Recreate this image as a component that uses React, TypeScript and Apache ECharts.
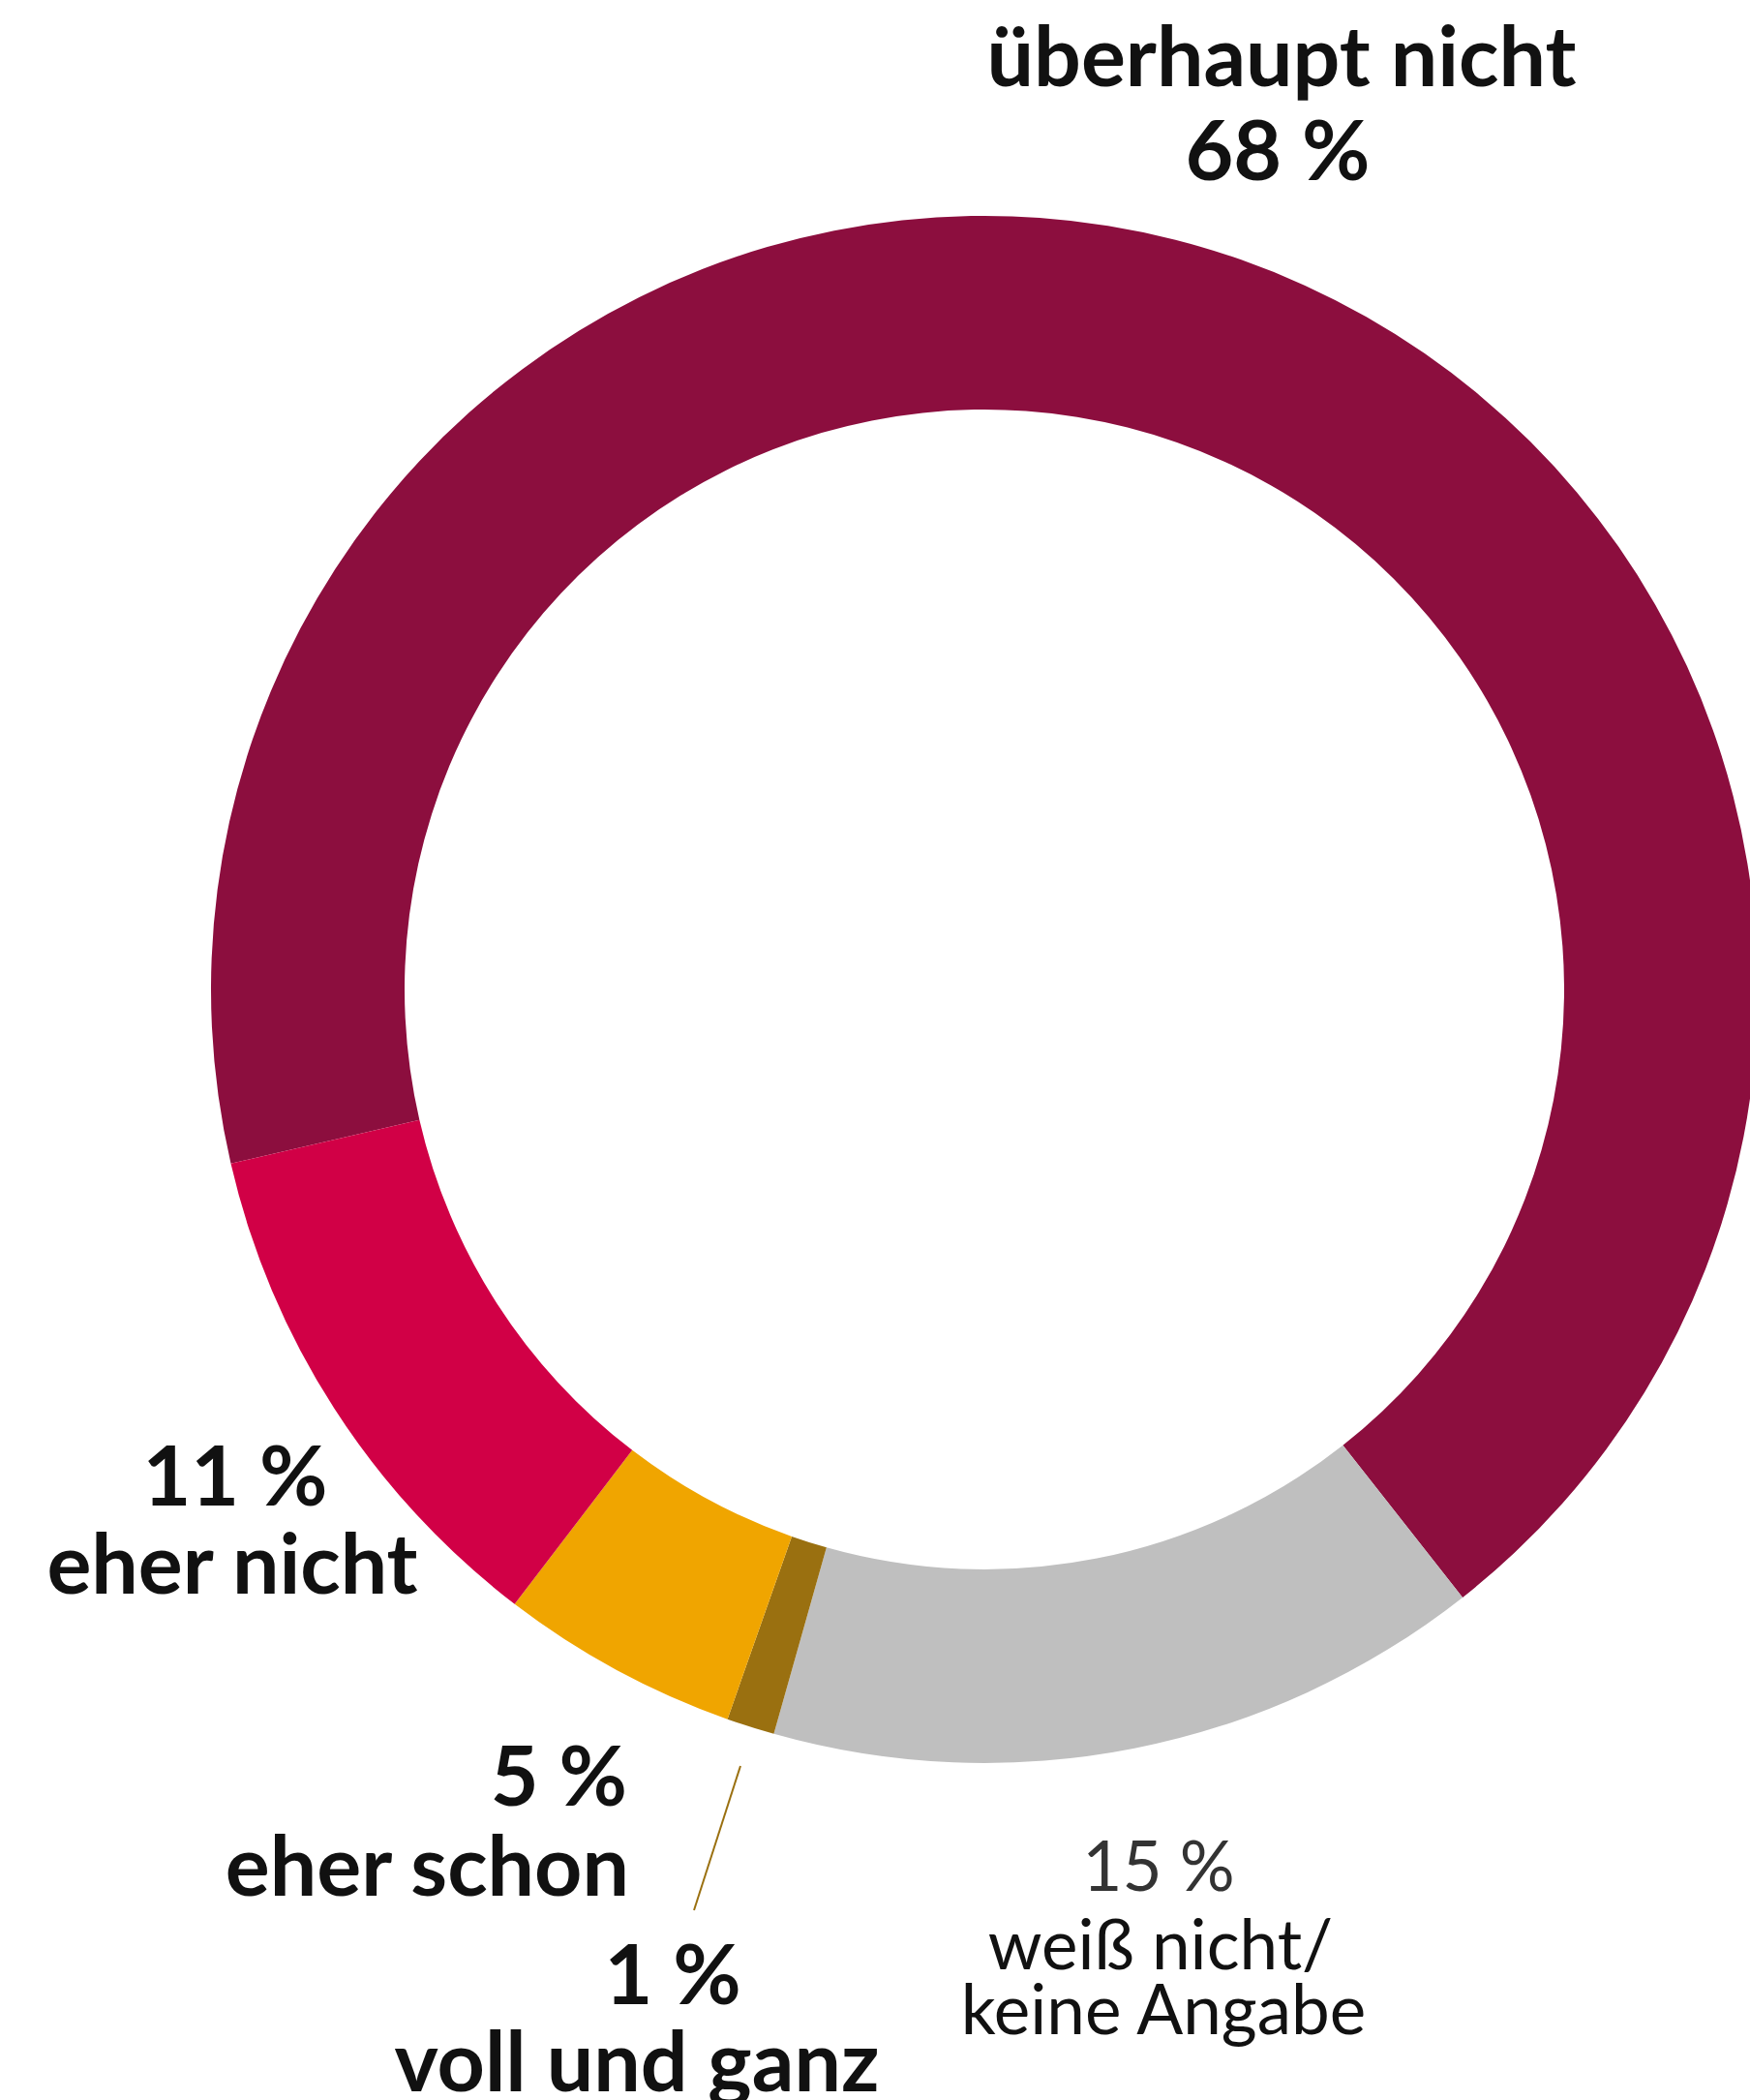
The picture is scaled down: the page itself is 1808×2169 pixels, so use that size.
import React, { useEffect, useRef } from "react";
import * as echarts from "echarts";

const categories = ["überhaupt nicht", "weiß nicht/\nkeine Angabe", "voll und ganz", "eher schon", "eher nicht"];
const values = [68, 15, 1, 5, 11];

const COLORS = ["#8C0E3E", "#BFBFBF", "#9A7010", "#F0A500", "#D10046"];
const FONT = "Lato";

export default function App() {
  const ref = useRef<HTMLDivElement>(null);
  useEffect(() => {
    document.body.style.margin = "0";
    if (!ref.current) return;
    const chart = echarts.init(ref.current, null, { renderer: "svg" });
    const pct = (i: number) => `${values[i]} %`;
    const bold = (text: string, x: number, y: number, align: string) => ({
      type: "text",
      x,
      y,
      style: {
        text,
        fill: "#111",
        font: `bold 86px ${FONT}`,
        textAlign: align,
        textVerticalAlign: "middle",
      },
    });
    const reg = (text: string, x: number, y: number, fill: string) => ({
      type: "text",
      x,
      y,
      style: {
        text,
        fill,
        font: `normal 71px ${FONT}`,
        textAlign: "center",
        textVerticalAlign: "middle",
      },
    });
    const [weiss, keine] = categories[1].split("\n");
    chart.setOption({
      animation: false,
      series: [
        {
          type: "pie",
          center: [1017, 1022],
          radius: [599, 799],
          startAngle: 193,
          clockwise: true,
          label: { show: false },
          labelLine: { show: false },
          emphasis: { disabled: true },
          data: categories.map((c, i) => ({
            name: c,
            value: values[i],
            itemStyle: { color: COLORS[i] },
          })),
        },
      ],
      graphic: [
        bold(categories[0], 1324, 55, "center"),
        bold(pct(0), 1320, 152, "center"),
        bold(pct(4), 243, 1521, "center"),
        bold(categories[4], 240, 1612, "center"),
        bold(pct(3), 648, 1831, "right"),
        bold(categories[3], 650, 1924, "right"),
        bold(pct(2), 695, 2036, "center"),
        bold(categories[2], 658, 2126, "center"),
        reg(pct(1), 1197, 1925, "#333"),
        reg(weiss, 1199, 2006, "#111"),
        reg(keine, 1202, 2073, "#111"),
        {
          type: "line",
          shape: { x1: 765, y1: 1824, x2: 717, y2: 1973 },
          style: { stroke: "#9A7010", lineWidth: 2 },
        },
      ],
    });
    return () => chart.dispose();
  }, []);
  return <div ref={ref} style={{ width: 1808, height: 2169 }} />;
}
